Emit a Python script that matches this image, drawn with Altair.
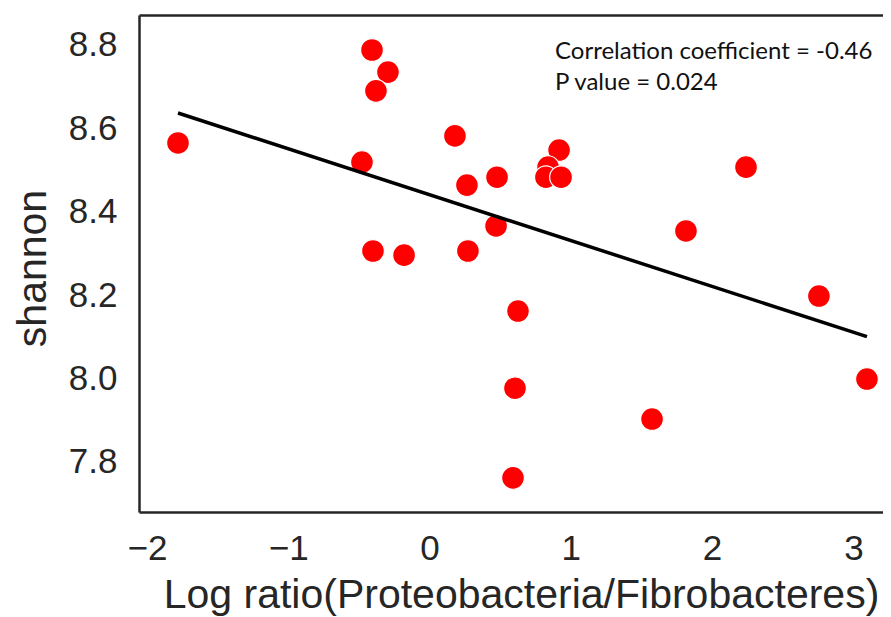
import altair as alt
import pandas as pd

# Values
log_ratio = [-1.780, -0.407, -0.294, -0.379, -0.478, -0.400, -0.180, 0.180,
             0.265, 0.478, 0.471, 0.272, 0.626, 0.605, 0.591, 0.917,
             0.839, 0.824, 0.931, 1.575, 1.815, 2.240, 2.756, 3.096]
shannon = [8.565, 8.788, 8.735, 8.690, 8.519, 8.306, 8.296, 8.582,
           8.464, 8.483, 8.366, 8.306, 8.162, 7.977, 7.762, 8.548,
           8.507, 8.483, 8.483, 7.903, 8.354, 8.507, 8.198, 7.999]
x_ticks = [-2, -1, 0, 1, 2, 3]
y_ticks = [7.8, 8.0, 8.2, 8.4, 8.6, 8.8]
annotation = "Correlation coefficient = -0.46\nP value = 0.024"

df = pd.DataFrame({"log_ratio": log_ratio, "shannon": shannon})

x_scale = alt.Scale(domain=[-2.056, 3.2095], nice=False, zero=False)
y_scale = alt.Scale(domain=[7.6801, 8.8719], nice=False, zero=False)

points = alt.Chart(df).mark_circle(
    size=520, color="#ff0000", opacity=1, stroke="white", strokeWidth=1.2
).encode(
    x=alt.X("log_ratio:Q", scale=x_scale,
            axis=alt.Axis(values=x_ticks, format="d",
                          title="Log ratio(Proteobacteria/Fibrobacteres)",
                          labelPadding=19, titleX=382, titleY=95,
                          titleBaseline="alphabetic", titleAlign="center")),
    y=alt.Y("shannon:Q", scale=y_scale,
            axis=alt.Axis(values=y_ticks, format=".1f", title="shannon",
                          labelPadding=22, titleX=-94, titleY=253,
                          titleAngle=-90, titleBaseline="alphabetic",
                          titleAlign="center")),
)

line = alt.Chart(df).transform_regression(
    "log_ratio", "shannon"
).mark_line(color="black", strokeWidth=3.5).encode(
    x=alt.X("log_ratio:Q", scale=x_scale,
            axis=alt.Axis(orient="top", labels=False, ticks=False, title=None,
                          domain=True, grid=False)),
    y=alt.Y("shannon:Q", scale=y_scale, axis=None),
)

text = alt.Chart(pd.DataFrame({"note": [annotation]})).mark_text(
    align="left", baseline="alphabetic", font="Lato", fontSize=24,
    lineBreak="\n", lineHeight=31, color="#111111"
).encode(
    x=alt.value(416), y=alt.value(44), text="note:N"
)

chart = alt.layer(points, line, text).resolve_axis(
    x="independent", y="independent"
).properties(
    width=744, height=497,
    padding={"left": 131, "top": 7, "right": 0, "bottom": 110},
    autosize=alt.AutoSizeParams(type="none"),
).configure_view(strokeWidth=0).configure_axis(
    grid=False, ticks=False, domain=True, domainColor="#262626", domainWidth=2.5,
    labelFont="Liberation Sans", labelFontSize=35, labelColor="#262626",
    titleFont="Liberation Sans", titleFontSize=41, titleFontWeight="normal",
    titleColor="#262626",
)

chart.save("out.html", embed_options={"renderer": "svg", "actions": False})
